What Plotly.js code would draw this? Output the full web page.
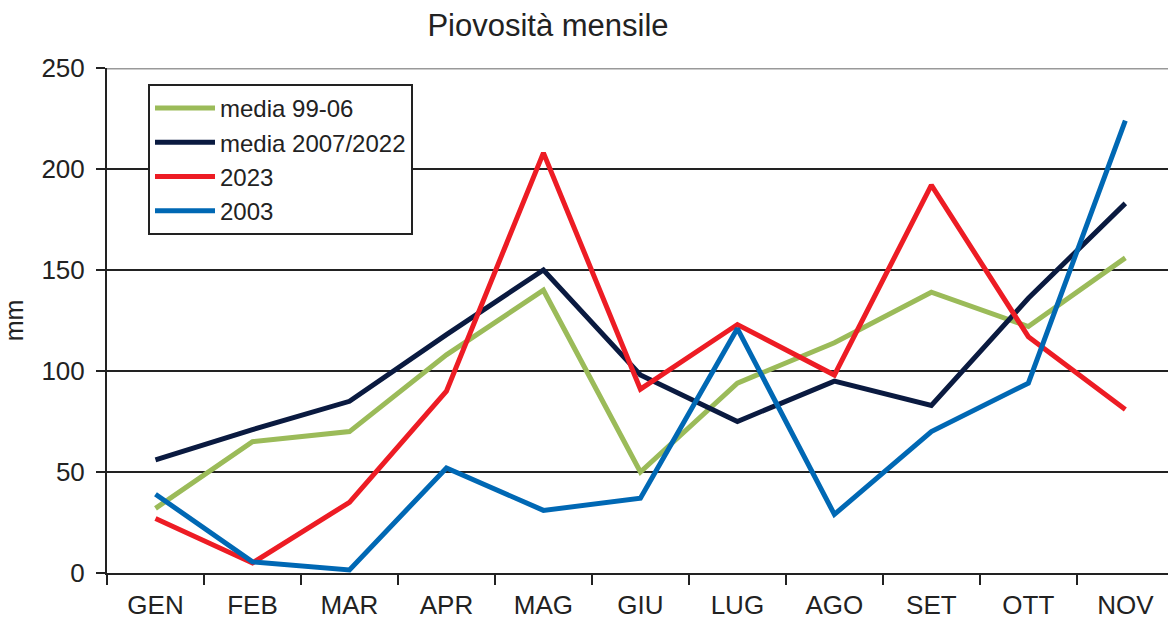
<!DOCTYPE html>
<html><head><meta charset="utf-8">
<script src="https://cdn.plot.ly/plotly-3.0.1.min.js"></script>
<style>html,body{margin:0;padding:0;background:#fff}#chart{width:1168px;height:620px}</style>
</head><body><div id="chart"></div>
<script>
const months = ["GEN","FEB","MAR","APR","MAG","GIU","LUG","AGO","SET","OTT","NOV"];
const media9906 = [32,65,70,108,140,50,94,114,139,122,156];
const media0722 = [56,71,85,118,150,98,75,95,83,136,183];
const y2023 = [27,5,35,90,208,91,123,98,192,117,81];
const y2003 = [39,5.5,1.5,52,31,37,121,29,70,94,224];
const names = ["media 99-06","media 2007/2022","2023","2003"];
const colors = ["#9BBB59","#0A1A40","#ED1C24","#0068B4"];
const series = [media9906, media0722, y2023, y2003];

const traces = series.map((s,i)=>({
  x: months, y: s, name: names[i], type:'scatter', mode:'lines',
  line:{color:colors[i], width:5}
}));

const layout = {
  width:1168, height:620,
  margin:{l:107, r:0, t:68, b:47},
  paper_bgcolor:'#fff', plot_bgcolor:'#fff',
  font:{family:'"Liberation Sans", Arial, sans-serif', color:'#222'},
  title:{text:'Piovosità mensile', font:{size:31, color:'#222'}, x:548/1168, xref:'container', xanchor:'center', y:0.96, yanchor:'middle'},
  xaxis:{
    type:'category', range:[-0.5, 10.44], showgrid:false,
    showline:true, linecolor:'#222', linewidth:2,
    ticks:'outside', tickson:'boundaries', ticklen:10, tickwidth:2, tickcolor:'#222',
    tickfont:{size:26, color:'#222'}, ticklabelstandoff:8
  },
  yaxis:{
    range:[0,250], dtick:50, showgrid:true, gridcolor:'#222', gridwidth:2,
    showline:true, linecolor:'#222', linewidth:2, zeroline:false,
    ticks:'outside', ticklen:9, tickwidth:2, tickcolor:'#222',
    tickfont:{size:26, color:'#222'}, ticklabelstandoff:6,
    title:{text:'mm', font:{size:25, color:'#222'}, standoff:18}
  },
  showlegend:true,
  legend:{x:41/1061, xanchor:'left', y:1-16/505, yanchor:'top',
    bgcolor:'#fff', bordercolor:'#222', borderwidth:2,
    font:{size:24, color:'#222'}, tracegroupgap:0, itemwidth:60},
  shapes:[{type:'line', xref:'paper', yref:'y', x0:0, x1:1, y0:250, y1:250, line:{color:'#999', width:3}, layer:'above'}]
};
Plotly.newPlot('chart', traces, layout, {displayModeBar:false, staticPlot:true});
</script></body></html>
